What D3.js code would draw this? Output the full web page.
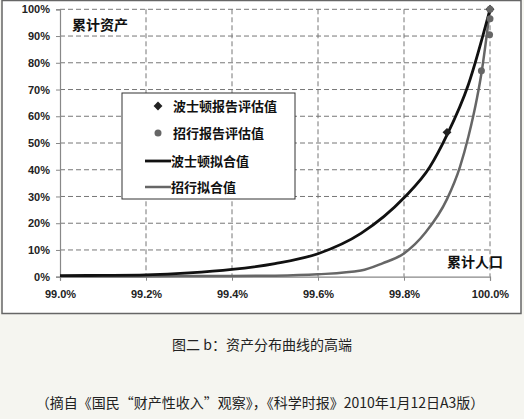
<!DOCTYPE html>
<html lang="zh">
<head>
<meta charset="utf-8">
<title>资产分布曲线的高端</title>
<script src="https://cdn.jsdelivr.net/npm/d3@7"></script>
<style>
  body { margin: 0; background: #f5f5f0; }
  .tick-label { font-family: "Liberation Sans", Arial, sans-serif; font-weight: bold; font-size: 11px; fill: #222; }
  .cn { font-family: "Noto Sans CJK SC", sans-serif; font-weight: bold; fill: #111; }
</style>
</head>
<body>
<script type="text/javascript">

// data (x = cumulative population %, y = cumulative assets %)
var xTicks = [99.0, 99.2, 99.4, 99.6, 99.8, 100.0];
var yTicks = [0, 10, 20, 30, 40, 50, 60, 70, 80, 90, 100];

var bostonFitX = [99.0, 99.1, 99.2, 99.3, 99.4, 99.5, 99.6, 99.7, 99.8, 99.86, 99.9, 99.95, 100.0];
var bostonFitY = [0.4, 0.5, 0.7, 1.4, 2.7, 4.9, 8.6, 16.2, 29.5, 41, 53, 72, 100];

var zhaohangFitX = [99.0, 99.2, 99.4, 99.5, 99.6, 99.7, 99.75, 99.8, 99.85, 99.9, 99.93, 99.95, 99.97, 99.98, 100.0];
var zhaohangFitY = [0.2, 0.2, 0.3, 0.4, 0.9, 2.3, 5, 8.7, 16.5, 29, 41, 52.5, 67, 76, 100];

var bostonPtsX = [99.9, 100.0];
var bostonPtsY = [54, 100];

var zhaohangPtsX = [99.98, 99.999, 100.0, 100.0];
var zhaohangPtsY = [77, 90.5, 96.5, 100];

var legendLabels = ["波士顿报告评估值", "招行报告评估值", "波士顿拟合值", "招行拟合值"];

var W = 524, H = 419;

var svg = d3.select("body").append("svg")
  .attr("width", W)
  .attr("height", H);

// chart frame
svg.append("rect")
  .attr("x", 2).attr("y", 0.5)
  .attr("width", 519).attr("height", 313)
  .attr("fill", "#fff")
  .attr("stroke", "#666")
  .attr("stroke-width", 1.5);

var x = d3.scaleLinear().domain([99, 100]).range([60, 490]);
var y = d3.scaleLinear().domain([0, 100]).range([276.7, 9.3]);

// grid
svg.append("g").selectAll("line")
  .data(yTicks.filter(function(d) { return d > 0; }))
  .enter().append("line")
  .attr("x1", x(99)).attr("x2", x(100))
  .attr("y1", function(d) { return y(d); })
  .attr("y2", function(d) { return y(d); })
  .attr("stroke", "#777").attr("stroke-width", 1)
  .attr("stroke-dasharray", "5,3");

svg.append("g").selectAll("line")
  .data(xTicks.filter(function(d) { return d > 99; }))
  .enter().append("line")
  .attr("x1", function(d) { return x(d); })
  .attr("x2", function(d) { return x(d); })
  .attr("y1", y(100)).attr("y2", y(0))
  .attr("stroke", "#777").attr("stroke-width", 1)
  .attr("stroke-dasharray", "5,3");

// axes
var yAxis = svg.append("g")
  .attr("transform", "translate(" + x(99) + ",0)")
  .call(d3.axisLeft(y).tickValues(yTicks).tickSize(4).tickFormat(function(d) { return d + "%"; }));

var xAxis = svg.append("g")
  .attr("transform", "translate(0," + y(0) + ")")
  .call(d3.axisBottom(x).tickValues(xTicks).tickSize(4).tickFormat(function(d) { return d3.format(".1f")(d) + "%"; }));

[yAxis, xAxis].forEach(function(a) {
  a.select(".domain").attr("stroke", "#888").attr("stroke-width", 1.2);
  a.selectAll(".tick line").attr("stroke", "#888");
  a.selectAll("text").attr("class", "tick-label").attr("fill", null);
});
yAxis.selectAll("text").attr("x", -10);
xAxis.selectAll("text").attr("y", 14);

// curves
var line = d3.line()
  .x(function(d) { return x(d[0]); })
  .y(function(d) { return y(d[1]); })
  .curve(d3.curveMonotoneX);

svg.append("path")
  .datum(d3.zip(zhaohangFitX, zhaohangFitY))
  .attr("fill", "none")
  .attr("stroke", "#666")
  .attr("stroke-width", 2.5)
  .attr("d", line);

svg.append("path")
  .datum(d3.zip(bostonFitX, bostonFitY))
  .attr("fill", "none")
  .attr("stroke", "#111")
  .attr("stroke-width", 2.8)
  .attr("d", line);

// points
var diamond = d3.symbol().type(d3.symbolDiamond2).size(50);

svg.append("g").selectAll("path")
  .data(d3.zip(bostonPtsX, bostonPtsY))
  .enter().append("path")
  .attr("transform", function(d) { return "translate(" + x(d[0]) + "," + y(d[1]) + ")"; })
  .attr("d", diamond)
  .attr("fill", "#222");

svg.append("g").selectAll("circle")
  .data(d3.zip(zhaohangPtsX, zhaohangPtsY))
  .enter().append("circle")
  .attr("cx", function(d) { return x(d[0]); })
  .attr("cy", function(d) { return y(d[1]); })
  .attr("r", 3.5)
  .attr("fill", "#666");

// axis titles
svg.append("text").attr("class", "cn")
  .attr("x", 72).attr("y", 30)
  .attr("font-size", 14)
  .text("累计资产");

svg.append("text").attr("class", "cn")
  .attr("x", 447).attr("y", 267)
  .attr("font-size", 14)
  .text("累计人口");

// legend
var legend = svg.append("g").attr("transform", "translate(122,93)");
legend.append("rect")
  .attr("width", 173).attr("height", 106)
  .attr("fill", "#fff")
  .attr("stroke", "#333")
  .attr("stroke-width", 1);

var rowY = [13, 40, 68, 94];
legend.append("path")
  .attr("transform", "translate(36," + rowY[0] + ")")
  .attr("d", diamond)
  .attr("fill", "#222");
legend.append("circle")
  .attr("cx", 36).attr("cy", rowY[1]).attr("r", 3.5)
  .attr("fill", "#666");
legend.append("line")
  .attr("x1", 23).attr("x2", 49).attr("y1", rowY[2]).attr("y2", rowY[2])
  .attr("stroke", "#111").attr("stroke-width", 2.8);
legend.append("line")
  .attr("x1", 23).attr("x2", 49).attr("y1", rowY[3]).attr("y2", rowY[3])
  .attr("stroke", "#666").attr("stroke-width", 2.5);

legend.selectAll(".lbl")
  .data(legendLabels)
  .enter().append("text")
  .attr("class", "cn")
  .attr("x", function(d, i) { return i < 2 ? 51 : 49; })
  .attr("y", function(d, i) { return rowY[i]; })
  .attr("dy", "0.35em")
  .attr("font-size", 13)
  .text(function(d) { return d; });

// captions
svg.append("text")
  .attr("x", 262).attr("y", 350)
  .attr("text-anchor", "middle")
  .attr("font-family", "'Noto Sans CJK SC', sans-serif")
  .attr("font-size", 14)
  .attr("fill", "#222")
  .text("图二 b：资产分布曲线的高端");

svg.append("text")
  .attr("x", 260).attr("y", 408)
  .attr("text-anchor", "middle")
  .attr("font-family", "'Noto Sans CJK SC', sans-serif")
  .attr("font-size", 14)
  .attr("fill", "#222")
  .text("（摘自《国民“财产性收入”观察》，《科学时报》2010年1月12日A3版）");

</script>
</body>
</html>
